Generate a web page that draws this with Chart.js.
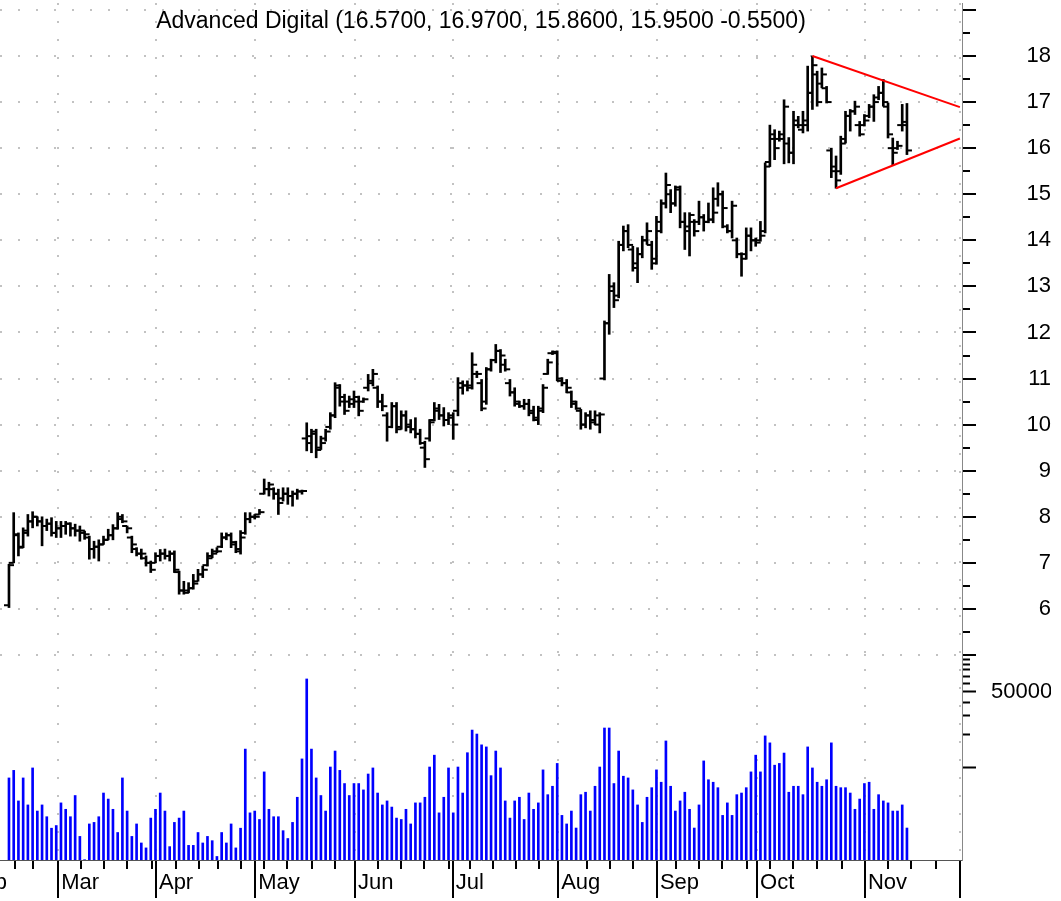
<!DOCTYPE html>
<html>
<head>
<meta charset="utf-8">
<title>Advanced Digital</title>
<script src="https://cdn.jsdelivr.net/npm/chart.js@4.4.1/dist/chart.umd.min.js"></script>
<style>
  html, body { margin: 0; padding: 0; background: #fff; }
</style>
</head>
<body>
<canvas id="chart" width="1061" height="901"></canvas>
<script>
const stockName = 'Advanced Digital';

// daily bars, one entry per trading day (Feb .. mid Nov)
const opens = [
  6.08, 7.00, 7.60, 7.35, 7.65, 7.90, 8.00, 7.90, 7.80, 7.85,
  7.65, 7.75, 7.80, 7.85, 7.75, 7.70, 7.65, 7.55, 7.30, 7.35,
  7.40, 7.50, 7.60, 7.75, 8.00, 7.80, 7.55, 7.30, 7.20, 7.10,
  7.00, 7.00, 7.15, 7.20, 7.15, 7.20, 6.80, 6.40, 6.40, 6.45,
  6.60, 6.75, 6.95, 7.15, 7.25, 7.35, 7.55, 7.60, 7.40, 7.25,
  7.65, 7.95, 8.00, 8.05, 8.50, 8.60, 8.60, 8.50, 8.40, 8.50,
  8.45, 8.50, 8.55, 9.70, 9.60, 9.80, 9.50, 9.70, 9.95, 10.20,
  10.80, 10.50, 10.50, 10.45, 10.50, 10.50, 10.80, 10.90, 10.80, 10.50,
  10.20, 9.95, 10.40, 9.95, 10.20, 10.00, 9.90, 9.80, 9.50, 9.70,
  10.10, 10.30, 10.20, 10.10, 10.20, 10.30, 10.80, 10.85, 10.85, 11.10,
  10.90, 10.50, 11.20, 11.40, 11.60, 11.30, 10.90, 10.70, 10.45, 10.40,
  10.45, 10.30, 10.10, 10.35, 11.10, 11.55, 11.55, 10.95, 10.90, 10.70,
  10.45, 10.30, 10.00, 10.20, 10.10, 10.00, 11.00, 12.20, 12.90, 12.80,
  13.90, 14.20, 13.80, 13.50, 13.70, 14.00, 13.90, 13.50, 14.20, 14.80,
  15.00, 14.80, 15.10, 14.40, 14.30, 14.40, 14.40, 14.50, 14.40, 14.45,
  14.90, 15.00, 14.30, 14.20, 14.00, 13.70, 13.70, 14.10, 14.00, 14.00,
  14.20, 15.70, 16.20, 16.20, 16.20, 16.10, 15.90, 16.60, 16.40, 16.50,
  17.20, 17.60, 17.40, 17.30, 15.95, 15.60, 15.50, 16.20, 16.70, 16.80,
  16.50, 16.50, 16.70, 16.90, 17.10, 17.20, 16.90, 16.00, 16.00, 16.50,
  16.57
];
const highs = [
  6.97, 8.09, 7.65, 7.76, 8.05, 8.11, 8.00, 8.00, 7.95, 7.98,
  7.90, 7.90, 7.90, 7.87, 7.84, 7.80, 7.69, 7.58, 7.47, 7.50,
  7.58, 7.73, 7.83, 8.09, 8.05, 7.80, 7.58, 7.33, 7.30, 7.15,
  7.04, 7.22, 7.29, 7.30, 7.26, 7.26, 6.82, 6.60, 6.57, 6.75,
  6.86, 6.93, 7.22, 7.30, 7.33, 7.65, 7.65, 7.65, 7.47, 7.70,
  8.09, 8.09, 8.05, 8.16, 8.82, 8.75, 8.63, 8.60, 8.63, 8.63,
  8.56, 8.60, 8.58, 10.04, 9.90, 9.90, 9.75, 9.90, 10.26, 10.91,
  10.87, 10.66, 10.62, 10.73, 10.62, 10.58, 11.09, 11.20, 10.84, 10.66,
  10.26, 10.48, 10.48, 10.30, 10.30, 10.11, 10.15, 9.90, 9.64, 10.11,
  10.48, 10.44, 10.37, 10.26, 10.26, 11.02, 10.95, 10.95, 11.56, 11.16,
  10.98, 11.24, 11.42, 11.74, 11.63, 11.42, 10.98, 10.80, 10.51, 10.55,
  10.55, 10.40, 10.40, 10.87, 11.42, 11.60, 11.60, 11.02, 10.98, 10.73,
  10.51, 10.33, 10.26, 10.30, 10.30, 10.26, 12.25, 13.26, 13.08, 13.98,
  14.31, 14.34, 13.87, 13.84, 14.09, 14.38, 13.98, 14.52, 14.88, 15.46,
  15.10, 15.18, 15.18, 14.60, 14.60, 14.45, 14.85, 14.56, 14.81, 15.14,
  15.25, 15.07, 14.34, 14.85, 14.05, 13.73, 14.27, 14.27, 14.05, 14.41,
  15.68, 16.50, 16.40, 16.37, 17.05, 16.23, 16.80, 16.69, 16.80, 17.78,
  18.00, 17.67, 17.74, 17.34, 16.00, 15.83, 16.26, 16.80, 16.84, 17.02,
  16.58, 16.73, 16.95, 17.16, 17.34, 17.49, 16.98, 16.22, 16.15, 16.95,
  16.97
];
const lows = [
  6.03, 7.00, 7.15, 7.33, 7.58, 7.76, 7.80, 7.37, 7.70, 7.58,
  7.55, 7.55, 7.62, 7.58, 7.58, 7.47, 7.51, 7.08, 7.10, 7.04,
  7.40, 7.50, 7.50, 7.73, 7.87, 7.65, 7.22, 7.15, 7.08, 6.93,
  6.79, 7.00, 7.04, 7.08, 7.04, 6.79, 6.32, 6.32, 6.35, 6.43,
  6.60, 6.68, 6.93, 7.11, 7.22, 7.33, 7.50, 7.33, 7.22, 7.19,
  7.62, 7.87, 7.95, 8.05, 8.49, 8.45, 8.38, 8.05, 8.34, 8.27,
  8.23, 8.38, 8.49, 9.43, 9.39, 9.28, 9.46, 9.64, 9.90, 10.15,
  10.40, 10.22, 10.37, 10.37, 10.19, 10.48, 10.73, 10.84, 10.37, 10.30,
  9.64, 9.93, 9.82, 9.90, 9.86, 9.82, 9.71, 9.57, 9.07, 9.64,
  10.08, 10.11, 9.97, 10.00, 9.68, 10.19, 10.66, 10.73, 10.77, 11.02,
  10.30, 10.44, 11.16, 11.34, 11.13, 11.16, 10.62, 10.40, 10.37, 10.33,
  10.19, 10.08, 10.00, 10.26, 11.09, 11.52, 10.95, 10.84, 10.69, 10.37,
  10.33, 9.90, 9.93, 9.90, 10.00, 9.82, 10.97, 11.96, 12.54, 12.75,
  13.77, 13.84, 13.33, 13.08, 13.62, 13.91, 13.37, 13.48, 14.16, 14.70,
  14.60, 14.74, 14.27, 13.80, 13.66, 14.09, 14.34, 14.20, 14.38, 14.38,
  14.74, 14.27, 14.16, 14.05, 13.62, 13.22, 13.59, 13.77, 13.87, 13.98,
  14.16, 15.60, 15.75, 16.15, 15.66, 15.68, 15.66, 16.44, 16.33, 16.37,
  16.84, 16.91, 17.31, 16.98, 15.36, 15.13, 15.43, 16.11, 16.37, 16.73,
  16.26, 16.48, 16.66, 16.58, 17.05, 16.91, 16.22, 15.64, 15.97, 16.37,
  15.86
];
const closes = [
  6.95, 7.62, 7.33, 7.70, 7.90, 8.00, 7.90, 7.80, 7.85, 7.65,
  7.75, 7.80, 7.85, 7.75, 7.70, 7.70, 7.62, 7.30, 7.35, 7.40,
  7.50, 7.60, 7.75, 7.95, 7.90, 7.75, 7.40, 7.20, 7.20, 7.00,
  6.85, 7.15, 7.20, 7.15, 7.20, 6.85, 6.40, 6.35, 6.45, 6.55,
  6.75, 6.85, 7.10, 7.20, 7.25, 7.55, 7.60, 7.45, 7.30, 7.55,
  7.95, 8.00, 8.00, 8.10, 8.60, 8.70, 8.50, 8.30, 8.50, 8.45,
  8.50, 8.55, 8.56, 9.75, 9.85, 9.45, 9.60, 9.85, 10.20, 10.85,
  10.60, 10.30, 10.55, 10.60, 10.30, 10.55, 10.95, 11.10, 10.50, 10.40,
  9.95, 10.40, 9.90, 10.20, 9.95, 9.90, 9.80, 9.60, 9.25, 10.05,
  10.35, 10.20, 10.10, 10.15, 10.00, 10.90, 10.85, 10.80, 11.30, 11.10,
  10.35, 11.20, 11.40, 11.60, 11.50, 11.20, 10.70, 10.50, 10.40, 10.45,
  10.25, 10.15, 10.30, 10.80, 11.35, 11.58, 11.00, 10.90, 10.80, 10.50,
  10.35, 10.00, 10.20, 10.05, 10.20, 10.22, 12.20, 13.00, 12.70, 13.90,
  14.20, 13.90, 13.40, 13.70, 14.00, 14.20, 13.60, 14.40, 14.80, 15.20,
  14.80, 15.15, 14.40, 14.20, 14.55, 14.20, 14.50, 14.40, 14.45, 14.60,
  15.00, 14.70, 14.20, 14.75, 13.70, 13.60, 14.10, 14.00, 13.95, 14.10,
  15.60, 16.30, 16.00, 16.30, 16.90, 15.90, 16.50, 16.50, 16.60, 17.20,
  17.80, 17.00, 17.60, 17.00, 15.50, 15.30, 16.10, 16.70, 16.80, 16.90,
  16.30, 16.60, 16.90, 17.00, 17.20, 17.00, 16.30, 15.90, 16.05, 16.50,
  15.95
];
const volumes = [
  8000, 9400, 4900, 8000, 4500, 9900, 3950, 4500, 3500, 2740,
  2900, 4700, 4100, 3500, 5500, 2300, 1400, 3000, 3100, 3500,
  5800, 5100, 4100, 2500, 8000, 3950, 2300, 3000, 2000, 1800,
  3400, 4100, 5800, 3950, 1850, 3100, 3400, 3950, 1900, 1900,
  2500, 2000, 2300, 2100, 1500, 2500, 2000, 3000, 1800, 2740,
  14800, 3800, 3950, 3300, 9100, 4100, 3500, 3500, 2600, 2200,
  3100, 5300, 12000, 66000, 14800, 8000, 5500, 3950, 10100, 14200,
  9400, 7100, 5500, 7100, 7100, 6200, 8700, 9900, 5800, 4500,
  4900, 4300, 3400, 3300, 4100, 3000, 4700, 4700, 5300, 10100,
  13000, 3800, 5300, 9900, 3800, 10100, 5800, 13700, 22200, 20400,
  16200, 15500, 8400, 14200, 9900, 4900, 3400, 4900, 5300, 3300,
  5800, 4100, 4700, 9500, 5600, 6700, 10900, 3600, 3000, 3950,
  2750, 5600, 5900, 3950, 6700, 10100, 23200, 23200, 7100, 14200,
  8300, 8000, 6200, 4500, 3100, 5300, 6500, 9500, 7300, 17600,
  6700, 3950, 4900, 5900, 4100, 2750, 4500, 11500, 7700, 7300,
  6500, 3600, 4700, 3600, 5600, 5800, 6500, 9100, 13000, 9100,
  19600, 16900, 10500, 10900, 13600, 5900, 6700, 6700, 5600, 15500,
  9900, 7300, 6700, 7700, 16900, 6700, 6500, 6500, 5800, 4100,
  5100, 7100, 7300, 4100, 5600, 4900, 4700, 3950, 3950, 4500,
  2750
];

// triangle trend lines: [day, price]
const trendUpper = [[170, 18.00], [201.2, 16.89]];
const trendLower = [[175, 15.13], [201.2, 16.21]];

// axis ticks (x in trading days)
const monthLabels = ['Feb', 'Mar', 'Apr', 'May', 'Jun', 'Jul', 'Aug', 'Sep', 'Oct', 'Nov', ''];
const monthStarts = [-9.1, 10.4, 31.1, 52.1, 73.2, 93.9, 116.2, 137.1, 158.3, 181.1, 201.2];
const weekTicks = [1.3, 5.1, 15.2, 20.1, 25.0, 30.3, 35.3, 40.2, 44.2, 49.1, 54.0, 58.8, 64.1, 69.0,
  78.1, 82.9, 87.8, 93.1, 97.5, 102.4, 107.3, 112.1, 122.3, 127.2, 132.0, 141.1, 146.0,
  150.9, 156.2, 161.0, 165.9, 171.0, 176.3, 186.0, 190.9, 196.2];
const priceMajor = [5, 6, 7, 8, 9, 10, 11, 12, 13, 14, 15, 16, 17, 18, 19];
const priceLabels = [6, 7, 8, 9, 10, 11, 12, 13, 14, 15, 16, 17, 18];
const volTicks = [10000, 20000, 30000, 40000, 50000, 60000, 70000, 80000, 90000, 100000];
const volMajor = [10000, 50000];
const volLabels = [50000];

const n = closes.length;
const change = closes[n - 1] - closes[n - 2];
const titleText = stockName + ' (' + opens[n - 1].toFixed(4) + ', ' + highs[n - 1].toFixed(4) + ', ' +
  lows[n - 1].toFixed(4) + ', ' + closes[n - 1].toFixed(4) + ' ' + change.toFixed(4) + ')';

const fontFam = '"Liberation Sans", Arial, Helvetica, sans-serif';
const gridColor = '#c2c2c2';
const clear = 'rgba(0,0,0,0)';

Chart.defaults.font.family = fontFam;

const isMajor = (c) => c.tick && c.tick.major;

const titlePlugin = {
  id: 'innerTitle',
  afterDraw(chart) {
    const { ctx, chartArea } = chart;
    ctx.save();
    ctx.font = '23px ' + fontFam;
    ctx.fillStyle = '#000';
    ctx.textAlign = 'center';
    ctx.textBaseline = 'middle';
    ctx.fillText(titleText, (chartArea.left + chartArea.right) / 2, chartArea.top + 19);
    ctx.restore();
  }
};

// week ticks first so the off-screen Feb tick is not treated as the first label
const xTicks = weekTicks.map(v => ({ value: v, major: false }))
  .concat(monthStarts.map(v => ({ value: v, major: true })));

const ctx = document.getElementById('chart').getContext('2d');
const chart = new Chart(ctx, {
  type: 'bar',
  data: {
    datasets: [
      {
        type: 'line',
        data: trendUpper.map(p => ({ x: p[0], y: p[1] })),
        borderColor: '#ff0000',
        borderWidth: 2,
        pointRadius: 0,
        yAxisID: 'y',
        order: 0
      },
      {
        type: 'line',
        data: trendLower.map(p => ({ x: p[0], y: p[1] })),
        borderColor: '#ff0000',
        borderWidth: 2,
        pointRadius: 0,
        yAxisID: 'y',
        order: 0
      },
      {
        // open tick, to the left
        type: 'line',
        data: opens.map((v, i) => ({ x: i, y: v })),
        showLine: false,
        pointStyle: 'dash',
        pointRotation: 180,
        pointRadius: 5,
        pointBorderWidth: 2,
        pointBorderColor: '#000',
        yAxisID: 'y',
        order: 1
      },
      {
        // close tick, to the right
        type: 'line',
        data: closes.map((v, i) => ({ x: i, y: v })),
        showLine: false,
        pointStyle: 'dash',
        pointRotation: 0,
        pointRadius: 5,
        pointBorderWidth: 2,
        pointBorderColor: '#000',
        yAxisID: 'y',
        order: 1
      },
      {
        // high-low range
        type: 'bar',
        data: lows.map((l, i) => ({ x: i, y: [l, highs[i]] })),
        backgroundColor: '#000',
        borderWidth: 0,
        barThickness: 2,
        grouped: false,
        yAxisID: 'y',
        order: 2
      },
      {
        type: 'bar',
        data: volumes.map((v, i) => ({ x: i, y: v })),
        backgroundColor: '#0000ff',
        borderWidth: 0,
        barThickness: 2,
        grouped: false,
        yAxisID: 'yv',
        order: 3
      }
    ]
  },
  options: {
    responsive: false,
    animation: false,
    events: [],
    devicePixelRatio: 1,
    layout: { autoPadding: false, padding: { top: 3, left: 0, right: 10, bottom: 0 } },
    plugins: {
      legend: { display: false },
      tooltip: { enabled: false }
    },
    scales: {
      x: {
        type: 'linear',
        position: 'bottom',
        offset: false,
        bounds: 'data',
        min: -1.9,
        max: 201.65,
        afterBuildTicks: (s) => { s.ticks = xTicks.map(t => ({ value: t.value, major: t.major })); },
        afterFit: (s) => { s.height = 41; s.paddingLeft = 0; s.paddingRight = 0; },
        ticks: {
          autoSkip: false,
          maxRotation: 0,
          minRotation: 0,
          align: 'start',
          labelOffset: 3,
          padding: -28,
          color: '#000',
          font: { size: 22 },
          callback: (v) => {
            const i = monthStarts.indexOf(v);
            return i >= 0 ? monthLabels[i] : '';
          }
        },
        grid: {
          offset: false,
          color: (c) => isMajor(c) ? gridColor : clear,
          lineWidth: 2,
          tickLength: 38,
          tickColor: '#000',
          tickWidth: 2,
          tickBorderDash: (c) => isMajor(c) ? [] : [8, 60]
        },
        border: { color: '#555', width: 1, dash: [2, 16] }
      },
      y: {
        type: 'linear',
        position: 'right',
        stack: 'right',
        stackWeight: 654,
        bounds: 'data',
        min: 4.957,
        max: 19.15,
        afterBuildTicks: (s) => {
          const t = [];
          priceMajor.forEach(v => {
            t.push({ value: v, major: true });
            if (v < 19) t.push({ value: v + 0.5, major: false });
          });
          s.ticks = t;
        },
        afterFit: (s) => { s.width = 89; s.paddingTop = 0; s.paddingBottom = 0; },
        ticks: {
          autoSkip: false,
          crossAlign: 'far',
          padding: 20,
          color: '#000',
          font: { size: 22 },
          callback: (v) => priceLabels.includes(v) ? String(v) : ''
        },
        grid: {
          color: (c) => isMajor(c) ? gridColor : clear,
          lineWidth: 2,
          tickLength: 14,
          tickColor: '#000',
          tickWidth: 2,
          tickBorderDash: (c) => isMajor(c) ? [] : [7, 40]
        },
        border: { color: '#888', width: 1, dash: [2, 16] }
      },
      yv: {
        type: 'logarithmic',
        position: 'right',
        stack: 'right',
        stackWeight: 203,
        bounds: 'data',
        min: 1391,
        max: 105400,
        afterBuildTicks: (s) => { s.ticks = volTicks.map(v => ({ value: v, major: volMajor.includes(v) })); },
        afterFit: (s) => { s.width = 89; s.paddingTop = 0; s.paddingBottom = 0; },
        ticks: {
          autoSkip: false,
          crossAlign: 'near',
          padding: 15,
          color: '#000',
          font: { size: 22 },
          callback: (v) => volLabels.includes(v) ? String(v) : ''
        },
        grid: {
          drawOnChartArea: false,
          tickLength: 14,
          tickColor: '#000',
          tickWidth: 2,
          tickBorderDash: (c) => isMajor(c) ? [] : [7, 40]
        },
        border: { color: '#888', width: 1 }
      }
    }
  },
  plugins: [titlePlugin]
});
</script>
</body>
</html>
